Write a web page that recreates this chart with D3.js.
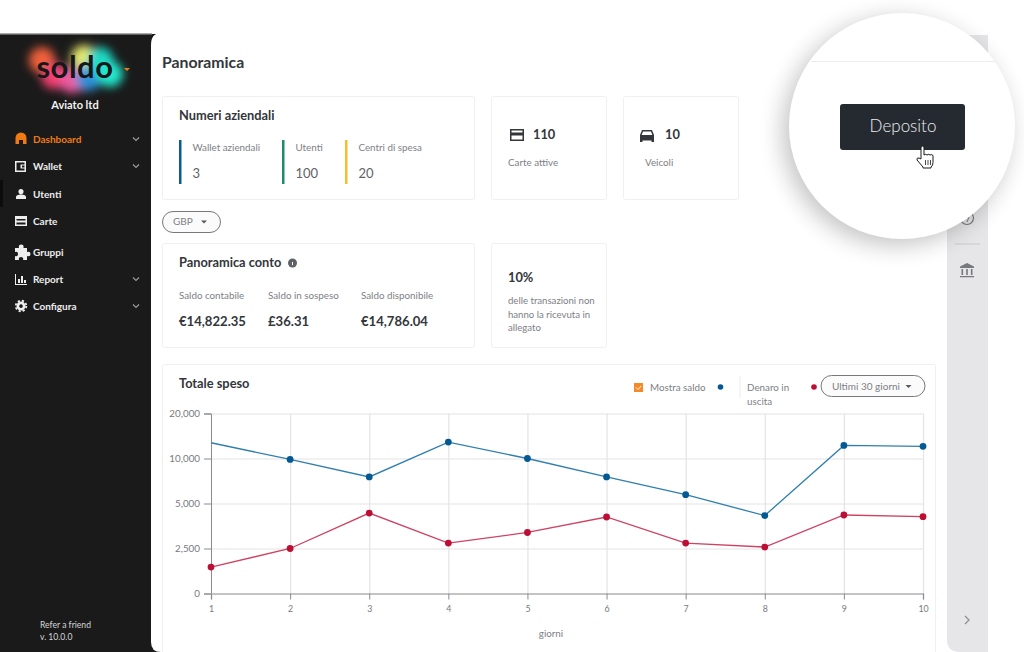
<!DOCTYPE html>
<html lang="it">
<head>
<meta charset="UTF-8">
<title>Panoramica</title>
<script src="https://d3js.org/d3.v7.min.js"></script>
<style>
  html, body { margin: 0; padding: 0; background: #fff; overflow: hidden; }
  text { font-family: Lato, "Noto Sans", sans-serif; }
</style>
</head>
<body>
<div id="chart"></div>
<script>
// chart data
var giorni = [1, 2, 3, 4, 5, 6, 7, 8, 9, 10];
var saldo = [13500, 9900, 7950, 13650, 10000, 7950, 5980, 4330, 12900, 12700];
var denaro = [1470, 2500, 4470, 2800, 3390, 4250, 2800, 2580, 4360, 4270];
var yTicks = [0, 2500, 5000, 10000, 20000];

// sidebar and text content
var menuLabels = ["Dashboard", "Wallet", "Utenti", "Carte", "Gruppi", "Report", "Configura"];
var menuY = [139, 166, 194, 221, 252, 279, 306];
var menuChevron = [true, true, false, false, false, true, true];
var logoColors = ["#f0603a", "#f23f70", "#ee5a9e", "#e9e86a", "#2f8fd8", "#1fd8c4", "#22e8cc"];
var logoX = [42, 54, 72, 84, 88, 100, 110];
var logoY = [60, 76, 80, 58, 78, 60, 74];

var svg = d3.select("#chart").append("svg").attr("width", 1024).attr("height", 652);
var defs = svg.append("defs");
defs.append("filter").attr("id", "glow").attr("x", "-100%").attr("y", "-100%").attr("width", "300%").attr("height", "300%")
    .append("feGaussianBlur").attr("stdDeviation", 5);
defs.append("filter").attr("id", "shade").attr("x", "-30%").attr("y", "-30%").attr("width", "160%").attr("height", "160%")
    .append("feGaussianBlur").attr("stdDeviation", 12);

function txt(g, s, x, y, size, color, weight, anchor) {
    return g.append("text").attr("x", x).attr("y", y).text(s)
        .attr("font-size", size).attr("fill", color)
        .attr("font-weight", weight || 400)
        .attr("text-anchor", anchor || "start");
}
function card(x, y, w, h) {
    svg.append("rect").attr("x", x + 0.5).attr("y", y + 0.5).attr("width", w).attr("height", h)
        .attr("rx", 2).attr("fill", "#fff").attr("stroke", "#f0f0f1");
}
function caret(g, x, y, c) {
    g.append("path").attr("d", "M" + (x - 3) + "," + y + "h6l-3,3z").attr("fill", c);
}

// sidebar
svg.append("rect").attr("x", 0).attr("y", 34).attr("width", 165).attr("height", 618).attr("fill", "#1a1a1a");
svg.append("rect").attr("x", 0).attr("y", 33).attr("width", 152).attr("height", 1.5).attr("fill", "#a9a9a9");
svg.append("rect").attr("x", 0).attr("y", 180).attr("width", 3).attr("height", 27).attr("fill", "#0c0c0c");

// grey rail on the right, then the white content sheet
svg.append("path").attr("d", "M947,35H988V652H960Q947,652 947,640Z").attr("fill", "#e6e6e8");
svg.append("path").attr("d", "M947,33H161Q151,33 151,45V642Q151,652 161,652H947Z").attr("fill", "#fff");

// logo
var logo = svg.append("g");
logo.append("g").attr("filter", "url(#glow)").selectAll("circle")
    .data(logoColors).join("circle")
    .attr("cx", function(d, i) { return logoX[i]; })
    .attr("cy", function(d, i) { return logoY[i]; })
    .attr("r", 13).attr("fill", function(d) { return d; });
txt(logo, "soldo", 75, 78, 31, "#17171a", 700, "middle").style("letter-spacing", "0.5px");
caret(logo, 127, 68, "#f07a14");
txt(svg, "Aviato ltd", 75, 109, 11, "#f2f2f2", 700, "middle");

// menu
var iconPaths = [
    "M15.5,144v-6a5.5,5.5 0 0 1 11,0v6h-3.5v-4h-4v4z",
    "M15,161h11v11h-11zM16.5,162.5v8h8v-2h-4v-4h4v-2zM22,165.5v2h2.5v-2z",
    "M21,189a2.6,2.6 0 1 1 -0.01,0zM16,199v-2q0,-2.5 5,-2.5t5,2.5v2z",
    "M15,216h12v10h-12zM16.5,219v1.5h9v-1.5zM16.5,222.5v2h9v-2z",
    "M15,248h4q-1,-3.5 2.2,-3.5t2.2,3.5h3.6v4q3.5,-1 3.5,2t-3.5,2v4h-4q1,-3 -2,-3t-2,3h-4v-4q3,1 3,-2t-3,-2z",
    "M15,274h1v10h11v1h-12zM18,279h2v4h-2zM21,276h2v7h-2zM24,280h2v3h-2z",
    "M21,301.5a4.5,4.5 0 1 1 -0.01,0zM21,304.3a1.8,1.8 0 1 0 0.01,0z"
];
menuLabels.forEach(function(label, i) {
    var c = i === 0 ? "#f07a14" : "#eeeeee";
    svg.append("path").attr("d", iconPaths[i]).attr("fill", c).attr("fill-rule", "evenodd");
    txt(svg, label, 33, menuY[i] + 3.5, 10, c, 700);
    if (menuChevron[i]) {
        svg.append("path").attr("d", "M133," + (menuY[i] - 1.5) + "l3,3l3,-3")
            .attr("fill", "none").attr("stroke", "#9a9a9a").attr("stroke-width", 1.2);
    }
});
// gear teeth on the Configura icon
svg.append("circle").attr("cx", 21).attr("cy", 306).attr("r", 5.3).attr("fill", "none")
    .attr("stroke", "#eeeeee").attr("stroke-width", 1.8).attr("stroke-dasharray", "2.2 2");
txt(svg, "Refer a friend", 40, 628, 8.6, "#d6d6d6");
txt(svg, "v. 10.0.0", 40, 640, 8.6, "#d6d6d6");

// header and cards
var ink = "#33363b", soft = "#7d8085";
txt(svg, "Panoramica", 162, 68, 15.8, ink, 700);

card(162, 96, 312, 103);
txt(svg, "Numeri aziendali", 179, 120, 12.8, ink, 700);
[[179, "#0a5c92", "Wallet aziendali", "3"], [282, "#1f8a70", "Utenti", "100"], [345, "#f6bd2c", "Centri di spesa", "20"]]
    .forEach(function(d) {
        svg.append("rect").attr("x", d[0]).attr("y", 140).attr("width", 2.5).attr("height", 44).attr("fill", d[1]);
        txt(svg, d[2], d[0] + 13.5, 151, 9.8, soft);
        txt(svg, d[3], d[0] + 13.5, 178, 13, "#5f6266");
    });

card(491, 96, 115, 103);
svg.append("path").attr("fill-rule", "evenodd").attr("fill", ink)
    .attr("d", "M510,129h14v12h-14zM511.5,130.5v2h11v-2zM511.5,135.5v4h11v-4z");
txt(svg, "110", 533, 139, 12.8, ink, 700);
txt(svg, "Carte attive", 508, 166, 9.8, soft);

card(623, 96, 115, 103);
svg.append("path").attr("fill-rule", "evenodd").attr("fill", ink)
    .attr("d", "M642,130h10l2,5v7h-2.5v-1.5h-9v1.5h-2.5v-7zM643,131.5l-1.3,3.5h10.6l-1.3,-3.5z");
txt(svg, "10", 665, 139, 12.8, ink, 700);
txt(svg, "Veicoli", 645, 166, 9.8, soft);

svg.append("rect").attr("x", 162.5).attr("y", 211.5).attr("width", 58).attr("height", 21).attr("rx", 10.5)
    .attr("fill", "#fbfbfb").attr("stroke", "#77797d");
txt(svg, "GBP", 173, 225, 10, soft);
caret(svg, 204, 220.5, "#55585c");

card(162, 243, 312, 104);
txt(svg, "Panoramica conto", 179, 267, 12.8, ink, 700);
svg.append("circle").attr("cx", 292.5).attr("cy", 263).attr("r", 4.5).attr("fill", "#5e6166");
svg.append("rect").attr("x", 292).attr("y", 262).attr("width", 1).attr("height", 3.2).attr("fill", "#fff");
[[179, "Saldo contabile", "€14,822.35"], [268, "Saldo in sospeso", "£36.31"], [361, "Saldo disponibile", "€14,786.04"]]
    .forEach(function(d) {
        txt(svg, d[1], d[0], 299, 9.8, soft);
        txt(svg, d[2], d[0], 326, 13.1, ink, 700);
    });

card(491, 243, 115, 104);
txt(svg, "10%", 508, 282, 12.8, ink, 700);
["delle transazioni non", "hanno la ricevuta in", "allegato"].forEach(function(s, i) {
    txt(svg, s, 508, [304, 318, 331][i], 9.6, soft);
});

// chart card
card(162, 364, 773, 300);
txt(svg, "Totale speso", 179, 388, 12.8, ink, 700);

svg.append("rect").attr("x", 634).attr("y", 383).attr("width", 9).attr("height", 9).attr("fill", "#f58a27");
svg.append("path").attr("d", "M636,387.5l2,2l3.2,-3.6").attr("fill", "none").attr("stroke", "#fff").attr("stroke-width", 1);
txt(svg, "Mostra saldo", 650, 391, 9.8, soft);
svg.append("circle").attr("cx", 720.5).attr("cy", 387).attr("r", 2.8).attr("fill", "#035a92");
svg.append("line").attr("x1", 740).attr("x2", 740).attr("y1", 376).attr("y2", 398).attr("stroke", "#ececee");
txt(svg, "Denaro in", 747, 391, 9.8, soft);
txt(svg, "uscita", 747, 405, 9.8, soft);
svg.append("circle").attr("cx", 814).attr("cy", 387).attr("r", 2.8).attr("fill", "#bd0f35");
svg.append("rect").attr("x", 821).attr("y", 375.5).attr("width", 104).attr("height", 21).attr("rx", 10.5)
    .attr("fill", "#fbfbfb").attr("stroke", "#77797d");
txt(svg, "Ultimi 30 giorni", 832, 390, 10, soft);
caret(svg, 908.5, 385, "#55585c");

// the y axis is evenly spaced over uneven steps, so it gets a piecewise scale
var x = d3.scaleLinear().domain([1, 10]).range([211, 923]);
var y = d3.scaleLinear().domain(yTicks).range([593.5, 548.5, 503.5, 458.5, 413.5]);

var gridY = svg.append("g").attr("transform", "translate(211,0)")
    .call(d3.axisLeft(y).tickValues(yTicks).tickSize(-712).tickFormat(""));
gridY.selectAll("line").attr("stroke", "#e4e4e5").attr("stroke-width", 1.2);
gridY.select(".domain").remove();

var gridX = svg.append("g").attr("transform", "translate(0,593.5)")
    .call(d3.axisBottom(x).tickValues(giorni).tickSize(-180).tickFormat(""));
gridX.selectAll("line").attr("stroke", "#e4e4e5").attr("stroke-width", 1.2);
gridX.select(".domain").remove();

var axisY = svg.append("g").attr("transform", "translate(211,0)")
    .call(d3.axisLeft(y).tickValues(yTicks).tickSize(7).tickPadding(4).tickFormat(d3.format(",")));
axisY.select(".domain").attr("stroke", "#8a8c90").attr("stroke-width", 1);
axisY.selectAll("line").attr("stroke", "#8a8c90");
axisY.selectAll("text").attr("font-size", 9.8).attr("fill", "#77797d").style("font-family", "Lato");

var axisX = svg.append("g").attr("transform", "translate(0,593.5)")
    .call(d3.axisBottom(x).tickValues(giorni).tickSize(6).tickPadding(6).tickFormat(d3.format("d")));
axisX.select(".domain").attr("stroke", "#b4b5b8").attr("stroke-width", 1.4);
axisX.selectAll("line").attr("stroke", "#8a8c90");
axisX.selectAll("text").attr("font-size", 8.8).attr("fill", "#77797d").style("font-family", "Lato");

txt(svg, "giorni", 551, 637, 9.8, soft, 400, "middle");

var line = d3.line().x(function(d, i) { return x(giorni[i]); }).y(function(d) { return y(d); });
[[saldo, "#2f7fae", "#035a92", 1], [denaro, "#cf4262", "#bd0f35", 0]].forEach(function(s) {
    svg.append("path").datum(s[0]).attr("d", line)
        .attr("fill", "none").attr("stroke", s[1]).attr("stroke-width", 1.3);
    // the balance series has no dot on day 1
    svg.append("g").selectAll("circle").data(giorni.slice(s[3])).join("circle")
        .attr("cx", function(d) { return x(d); })
        .attr("cy", function(d, i) { return y(s[0][i + s[3]]); })
        .attr("r", 3.4).attr("fill", s[2]);
});

// right rail icons
svg.append("circle").attr("cx", 967).attr("cy", 218).attr("r", 6.5).attr("fill", "none").attr("stroke", "#77797d").attr("stroke-width", 1.2);
svg.append("path").attr("d", "M969,217l-2,5").attr("fill", "none").attr("stroke", "#77797d");
svg.append("line").attr("x1", 955).attr("x2", 980).attr("y1", 244).attr("y2", 244).attr("stroke", "#c9c9cc");
svg.append("path").attr("fill", "#77797d").attr("fill-rule", "evenodd")
    .attr("d", "M967,263l7,3.5v1.5h-14v-1.5zM961.5,269h1.6v6h-1.6zM966.2,269h1.6v6h-1.6zM970.9,269h1.6v6h-1.6zM960,276h14v1.3h-14z");
svg.append("path").attr("d", "M965,616l4,4l-4,4").attr("fill", "none").attr("stroke", "#8f9094").attr("stroke-width", 1.3);

// magnifier
svg.append("circle").attr("cx", 896).attr("cy", 132).attr("r", 113).attr("fill", "#000").attr("opacity", 0.24).attr("filter", "url(#shade)");
svg.append("circle").attr("cx", 902).attr("cy", 126).attr("r", 113).attr("fill", "#fff");
svg.append("line").attr("x1", 811).attr("x2", 995).attr("y1", 61.5).attr("y2", 61.5).attr("stroke", "#ececee").attr("stroke-width", 1.2);
svg.append("rect").attr("x", 840).attr("y", 104).attr("width", 125).attr("height", 46).attr("rx", 3).attr("fill", "#242a30");
txt(svg, "Deposito", 903, 132, 17, "#eceef0", 300, "middle");
svg.append("path").attr("fill", "#fff").attr("stroke", "#1c1c1c").attr("stroke-width", 1).attr("stroke-linejoin", "round")
    .attr("d", "M921,147q2,-2 3,0v8q2,-1.5 3,0q2,-1.5 3,0q2,-1 3,0.5v7q0,3 -2,4.5v1h-8v-1l-6,-7q-0.5,-2.5 2,-2l2,1z");
svg.append("path").attr("fill", "none").attr("stroke", "#1c1c1c").attr("stroke-width", 0.8)
    .attr("d", "M925.5,160v5M928,160v5M930.5,160v5");
</script>
</body>
</html>
